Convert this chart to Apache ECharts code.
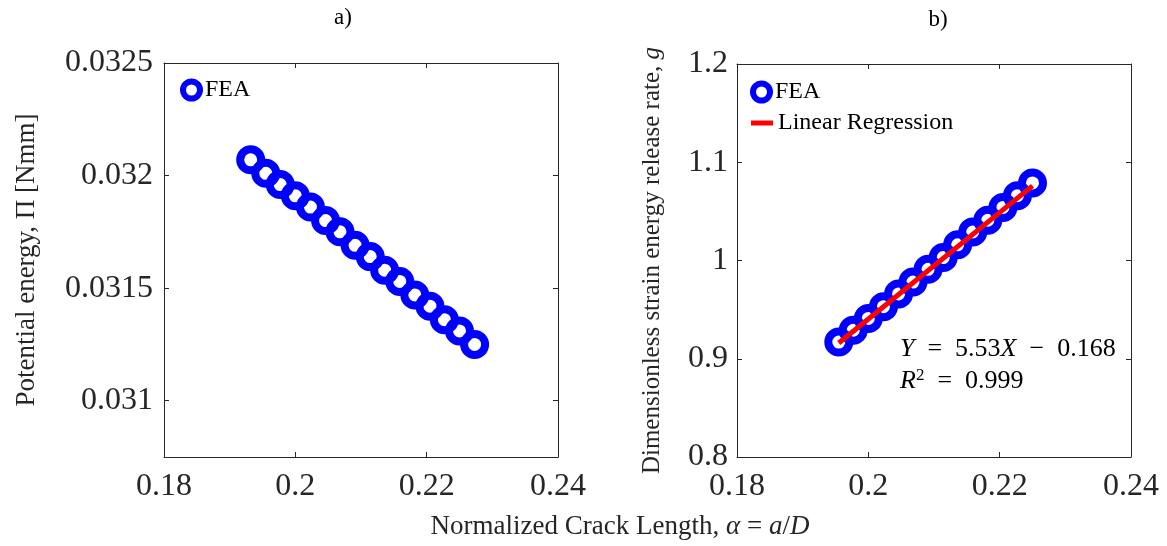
<!DOCTYPE html>
<html><head><meta charset="utf-8">
<script src="https://cdn.jsdelivr.net/npm/echarts@6/dist/echarts.min.js"></script>
<style>html,body{margin:0;padding:0;background:#fff}#c{width:1167px;height:546px}</style>
</head><body><div id="c"></div><script>
// ---- data ----
const crackLengthA = [0.1932, 0.1955, 0.1977, 0.2000, 0.2023, 0.2046, 0.2068, 0.2091, 0.2114, 0.2136, 0.2159, 0.2182, 0.2205, 0.2227, 0.2250, 0.2273];
const potentialEnergy = [0.03207, 0.03201, 0.03196, 0.03191, 0.03186, 0.03180, 0.03175, 0.03169, 0.03164, 0.03158, 0.03153, 0.03147, 0.03142, 0.03136, 0.03131, 0.03125];
const crackLengthB = [0.1955, 0.1977, 0.2000, 0.2023, 0.2046, 0.2068, 0.2091, 0.2114, 0.2136, 0.2159, 0.2182, 0.2205, 0.2227, 0.2250];
const energyRelease = [0.917, 0.929, 0.941, 0.953, 0.966, 0.978, 0.991, 1.003, 1.016, 1.029, 1.041, 1.054, 1.066, 1.079];
const regressionX = [0.1955, 0.2250];
const regressionY = [0.916, 1.076];
const xTicks = [0.18, 0.2, 0.22, 0.24];
const yTicksA = [0.031, 0.0315, 0.032, 0.0325];
const yTicksB = [0.8, 0.9, 1, 1.1, 1.2];

const FONT = "'Liberation Serif', 'Times New Roman', serif";
const AX = '#262626';
const zip = (a, b) => a.map((v, i) => [v, b[i]]);

function axis(type, grid, pos, min, max, ticks, showLabel, margin, extra) {
  return Object.assign({
    type: 'value', gridIndex: grid, position: pos, min: min, max: max,
    axisLine: { show: true, onZero: false, lineStyle: { color: AX, width: 1 } },
    axisTick: { show: true, inside: true, length: 5, customValues: ticks, lineStyle: { color: AX, width: 1 } },
    axisLabel: { show: showLabel, customValues: ticks, margin: margin, fontFamily: FONT, fontSize: 32, color: AX },
    splitLine: { show: false }
  }, extra || {});
}

const ringStyle = { color: 'rgba(0,0,0,0)', borderColor: '#0000ff', borderWidth: 8, opacity: 1 };

const chart = echarts.init(document.getElementById('c'), null, { renderer: 'canvas' });
chart.setOption({
  animation: false,
  backgroundColor: '#fff',
  grid: [
    { left: 164, top: 63, width: 394, height: 394 },
    { left: 737, top: 64, width: 394, height: 393 }
  ],
  xAxis: [
    axis('x', 0, 'bottom', 0.18, 0.24, xTicks, true, 14),
    axis('x', 0, 'top', 0.18, 0.24, xTicks, false, 8),
    axis('x', 1, 'bottom', 0.18, 0.24, xTicks, true, 14),
    axis('x', 1, 'top', 0.18, 0.24, xTicks, false, 8)
  ],
  yAxis: [
    axis('y', 0, 'left', 0.03075, 0.0325, yTicksA, true, 11, {
      name: 'Potential energy, Π [Nmm]', nameLocation: 'middle', nameGap: 124,
      nameTextStyle: { fontFamily: FONT, fontSize: 27, color: AX }
    }),
    axis('y', 0, 'right', 0.03075, 0.0325, yTicksA, false, 8),
    axis('y', 1, 'left', 0.8, 1.2, yTicksB, true, 9, {
      name: 'Dimensionless strain energy release rate, {i|g}', nameLocation: 'middle', nameGap: 72,
      nameTextStyle: { fontFamily: FONT, fontSize: 25, color: AX, rich: { i: { fontFamily: FONT, fontSize: 25, fontStyle: 'italic', color: AX } } }
    }),
    axis('y', 1, 'right', 0.8, 1.2, yTicksB, false, 8)
  ],
  legend: [
    { data: [{ name: 'FEA', icon: 'circle', itemStyle: { color: 'rgba(0,0,0,0)', borderColor: '#0000ff', borderWidth: 6, opacity: 1 } }],
      left: 180, top: 78, padding: 0, itemWidth: 17, itemHeight: 17, selectedMode: false,
      textStyle: { fontFamily: FONT, fontSize: 24, lineHeight: 24, color: '#000' } },
    { data: [{ name: 'FEA', icon: 'circle', itemStyle: { color: 'rgba(0,0,0,0)', borderColor: '#0000ff', borderWidth: 6, opacity: 1 } }],
      left: 750, top: 80, padding: 0, itemWidth: 17, itemHeight: 17, selectedMode: false,
      textStyle: { fontFamily: FONT, fontSize: 24, lineHeight: 24, color: '#000' } },
    { data: [{ name: 'Linear Regression', icon: 'rect', itemStyle: { color: '#ff0000', borderWidth: 0 } }],
      left: 751, top: 111, padding: 0, itemWidth: 22, itemHeight: 5, selectedMode: false,
      textStyle: { fontFamily: FONT, fontSize: 24, lineHeight: 24, color: '#000' } }
  ],
  series: [
    { type: 'scatter', name: 'FEA', xAxisIndex: 0, yAxisIndex: 0, data: zip(crackLengthA, potentialEnergy),
      symbol: 'circle', symbolSize: 21, silent: true, itemStyle: ringStyle },
    { type: 'scatter', name: 'FEA', xAxisIndex: 2, yAxisIndex: 2, data: zip(crackLengthB, energyRelease),
      symbol: 'circle', symbolSize: 21, silent: true, itemStyle: ringStyle },
    { type: 'line', name: 'Linear Regression', xAxisIndex: 2, yAxisIndex: 2, data: zip(regressionX, regressionY),
      symbol: 'none', silent: true, lineStyle: { color: '#ff0000', width: 5, cap: 'butt', opacity: 1 }, z: 5 }
  ],
  graphic: [
    { type: 'text', x: 343, y: 18, style: { text: 'a)', fontFamily: FONT, fontSize: 23, fill: '#000', align: 'center', verticalAlign: 'middle' } },
    { type: 'text', x: 938, y: 20, style: { text: 'b)', fontFamily: FONT, fontSize: 23, fill: '#000', align: 'center', verticalAlign: 'middle' } },
    { type: 'text', x: 620, y: 527, style: {
        text: 'Normalized Crack Length, {i|α} = {i|a}/{i|D}', fontFamily: FONT, fontSize: 27, fill: AX,
        align: 'center', verticalAlign: 'middle',
        rich: { i: { fontFamily: FONT, fontSize: 27, fontStyle: 'italic', fill: AX } } } },
    { type: 'text', x: 900, y: 349, style: {
        text: '{i|Y}  =  5.53{i|X}  −  0.168', fontFamily: FONT, fontSize: 26, fill: '#000',
        align: 'left', verticalAlign: 'middle',
        rich: { i: { fontFamily: FONT, fontSize: 26, fontStyle: 'italic', fill: '#000' } } } },
    { type: 'text', x: 900, y: 381, style: {
        text: '{i|R}{s|2}  =  0.999', fontFamily: FONT, fontSize: 26, fill: '#000',
        align: 'left', verticalAlign: 'middle',
        rich: { i: { fontFamily: FONT, fontSize: 26, fontStyle: 'italic', fill: '#000' },
                s: { fontFamily: FONT, fontSize: 17, fill: '#000', verticalAlign: 'top', padding: [0, 0, 10, 0] } } } }
  ]
});
</script></body></html>
